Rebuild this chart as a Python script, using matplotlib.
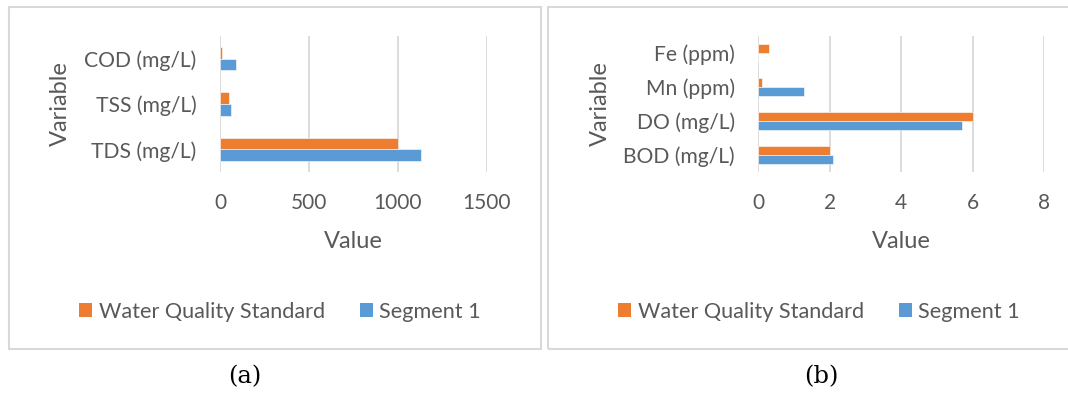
import matplotlib
matplotlib.use("Agg")
import matplotlib.pyplot as plt
from matplotlib.patches import Rectangle, Patch
import numpy as np

# ---- data ----
cats_a = ["TDS (mg/L)", "TSS (mg/L)", "COD (mg/L)"]
std_a = [1000, 50, 10]
seg_a = [1127, 60, 92]
xticks_a = [0, 500, 1000, 1500]

cats_b = ["BOD (mg/L)", "DO (mg/L)", "Mn (ppm)", "Fe (ppm)"]
std_b = [2, 6, 0.1, 0.3]
seg_b = [2.1, 5.7, 1.27, 0]
xticks_b = [0, 2, 4, 6, 8]

series_names = ["Water Quality Standard", "Segment 1"]
ORANGE = "#ED7D31"
BLUE = "#5B9BD5"
GRID = "#D9D9D9"
TXT = "#595959"

W, H = 1068, 394
fig = plt.figure(figsize=(W / 100, H / 100), dpi=100)
FONT = "Lato"

def fx(px):
    return px / W

def fy(py):
    return 1 - py / H

# frames
for (x0, x1) in [(9, 541), (548, 1090)]:
    fig.patches.append(Rectangle((fx(x0), fy(349)), fx(x1 - x0), (349 - 7) / H,
                                 transform=fig.transFigure, fill=False,
                                 edgecolor=GRID, linewidth=1.5, zorder=0))

def panel(left, right, cats, std, seg, xticks, var_x, legend_cx, label, label_x):
    ax = fig.add_axes([fx(left), fy(172), fx(right - left), 136 / H])
    y = np.arange(len(cats))
    h = 0.257
    ax.barh(y + h / 2, std, height=h, color=ORANGE, edgecolor="white", linewidth=0.4, zorder=3,
            label=series_names[0])
    ax.barh(y - h / 2, seg, height=h, color=BLUE, edgecolor="white", linewidth=0.4, zorder=3,
            label=series_names[1])
    ax.set_xlim(xticks[0], xticks[-1])
    ax.set_ylim(-0.5, len(cats) - 0.5)
    ax.set_xticks(xticks)
    ax.set_xticklabels([str(t) for t in xticks], fontsize=15, color=TXT, family=FONT)
    ax.set_yticks(y)
    ax.set_yticklabels(cats, fontsize=15.2, color=TXT, family=FONT)
    ax.tick_params(axis="both", length=0)
    ax.tick_params(axis="y", pad=17)
    ax.tick_params(axis="x", pad=15)
    ax.grid(axis="x", color=GRID, linewidth=1.3, zorder=0)
    for s in ax.spines.values():
        s.set_visible(False)
    ax.set_facecolor("none")
    fig.text(fx((left + right) / 2), fy(241), "Value", ha="center", va="center",
             fontsize=17, color=TXT, family=FONT)
    fig.text(fx(var_x), fy(104), "Variable", ha="center", va="center", rotation=90,
             fontsize=17, color=TXT, family=FONT)
    handles = [Patch(facecolor=ORANGE), Patch(facecolor=BLUE)]
    fig.legend(handles, series_names, loc="center", bbox_to_anchor=(fx(legend_cx), fy(312)),
               ncol=2, frameon=False, handlelength=0.6, handleheight=0.6,
               handletextpad=0.3, columnspacing=1.6,
               prop={"family": FONT, "size": 15.6}, labelcolor=TXT)
    fig.text(fx(label_x), fy(377), label, ha="center", va="center", fontsize=17.5,
             color="black", family="DejaVu Serif")
    return ax

panel(220, 487, cats_a, std_a, seg_a, xticks_a, 60, 280, "(a)", 245)
panel(758.3, 1044, cats_b, std_b, seg_b, xticks_b, 600, 819, "(b)", 821)

fig.savefig("out.png", dpi=100, facecolor="white")
